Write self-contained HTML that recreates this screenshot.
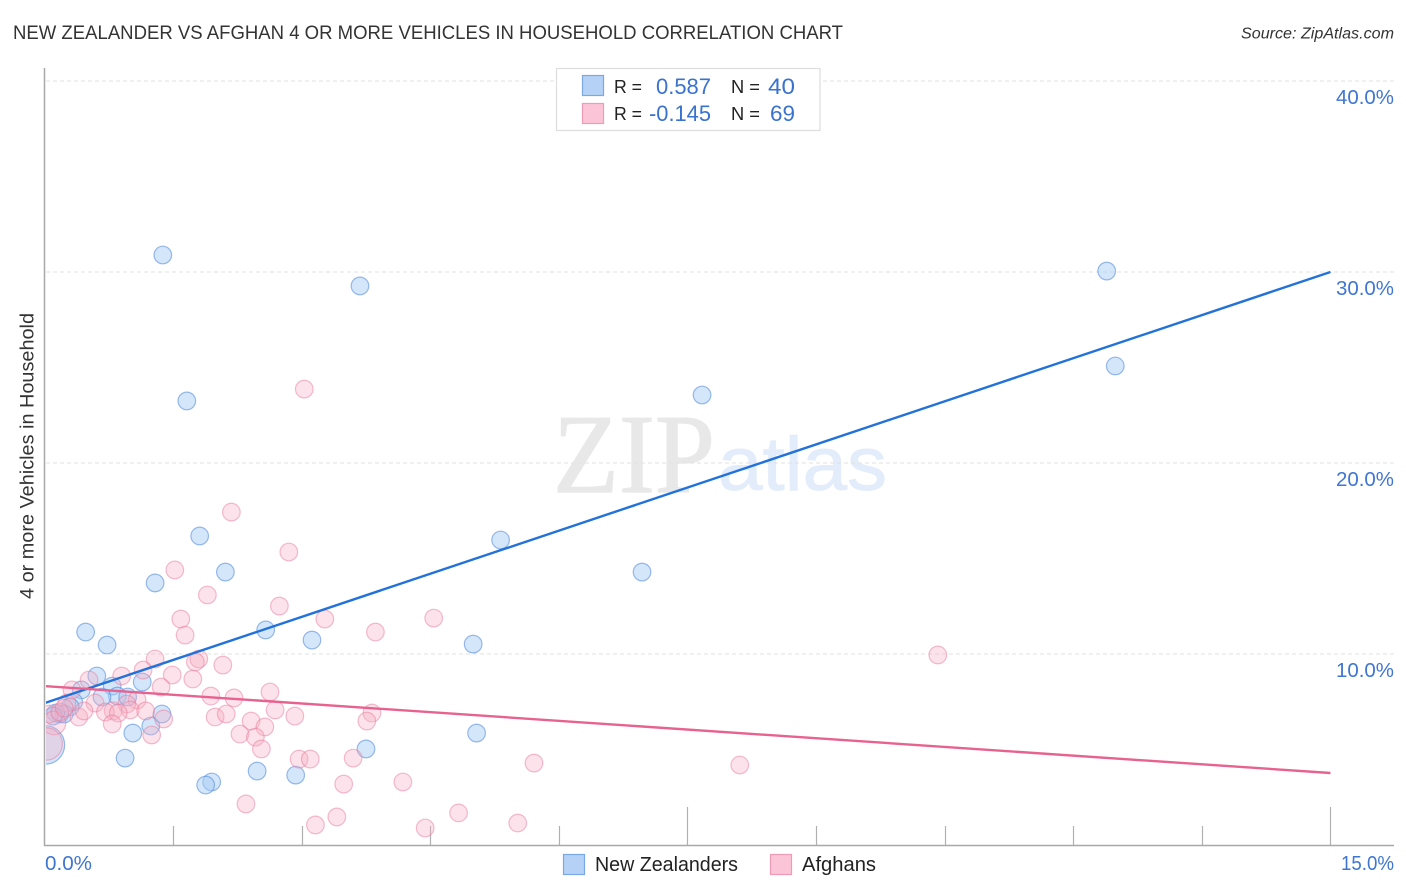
<!DOCTYPE html>
<html lang="en">
<head>
<meta charset="utf-8">
<title>New Zealander vs Afghan 4 or More Vehicles in Household Correlation Chart</title>
<style>
html,body{margin:0;padding:0;background:#fff;width:1406px;height:892px;overflow:hidden}
svg{display:block}
text{font-family:"Liberation Sans",sans-serif}
</style>
</head>
<body>
<svg id="chart" xmlns="http://www.w3.org/2000/svg" width="1406" height="892" viewBox="0 0 1406 892">
  <defs>
    <clipPath id="plot-clip"><rect x="46" y="60" width="1348" height="785"/></clipPath>
  </defs>
  <rect x="0" y="0" width="1406" height="892" fill="#ffffff"/>
  <text x="13" y="39" font-size="19" fill="#333333" textLength="830" lengthAdjust="spacingAndGlyphs">NEW ZEALANDER VS AFGHAN 4 OR MORE VEHICLES IN HOUSEHOLD CORRELATION CHART</text>
  <text x="1241" y="38.500" font-size="15.500" font-style="italic" fill="#333333" textLength="153" lengthAdjust="spacingAndGlyphs">Source: ZipAtlas.com</text>

  <g>
    <text x="553" y="492" style="font-family:'Liberation Serif',serif" font-size="112" fill="#e8e8e8" stroke="#e8e8e8" stroke-width="1.2" textLength="162" lengthAdjust="spacingAndGlyphs">ZIP</text>
    <text x="718" y="490" style="font-family:'Liberation Sans',sans-serif" font-size="76" fill="#e2ecfa" stroke="#e2ecfa" stroke-width="0.8" textLength="169" lengthAdjust="spacingAndGlyphs">atlas</text>
  </g>

  <g id="grid"></g>
  <g id="axes"></g>
  <g id="marks" clip-path="url(#plot-clip)"></g>
  <g id="trends" clip-path="url(#plot-clip)"></g>
  <g id="labels"></g>

  <text transform="translate(33.500,599) rotate(-90)" font-size="19" fill="#333333" textLength="286" lengthAdjust="spacingAndGlyphs">4 or more Vehicles in Household</text>

  <g>
    <rect x="556.500" y="68.500" width="263.500" height="62" fill="#ffffff" stroke="#dddddd" stroke-width="1.200"/>
    <rect x="582.500" y="75.500" width="21" height="20" fill="#b5d2f6" stroke="#7aa8e4" stroke-width="1.200"/>
    <rect x="582.500" y="103.500" width="21" height="20" fill="#fcc5d7" stroke="#f19ab8" stroke-width="1.200"/>
    <text x="614" y="93" font-size="18" fill="#222222" textLength="28" lengthAdjust="spacingAndGlyphs">R =</text>
    <text x="656" y="94" font-size="22" fill="#3a72cf" textLength="55" lengthAdjust="spacingAndGlyphs">0.587</text>
    <text x="731" y="93" font-size="18" fill="#222222" textLength="29" lengthAdjust="spacingAndGlyphs">N =</text>
    <text x="768" y="94" font-size="22" fill="#3a72cf" textLength="27" lengthAdjust="spacingAndGlyphs">40</text>
    <text x="614" y="120" font-size="18" fill="#222222" textLength="28" lengthAdjust="spacingAndGlyphs">R =</text>
    <text x="649" y="121" font-size="22" fill="#3a72cf" textLength="62" lengthAdjust="spacingAndGlyphs">-0.145</text>
    <text x="731" y="120" font-size="18" fill="#222222" textLength="29" lengthAdjust="spacingAndGlyphs">N =</text>
    <text x="770" y="121" font-size="22" fill="#3a72cf" textLength="25" lengthAdjust="spacingAndGlyphs">69</text>
  </g>

  <g>
    <rect x="563.500" y="854.500" width="21" height="20" fill="#b5d2f6" stroke="#7aa8e4" stroke-width="1.200"/>
    <text x="595" y="871" font-size="20" fill="#222222" textLength="143" lengthAdjust="spacingAndGlyphs">New Zealanders</text>
    <rect x="770.500" y="854.500" width="21" height="20" fill="#fcc5d7" stroke="#f19ab8" stroke-width="1.200"/>
    <text x="802" y="871" font-size="20" fill="#222222" textLength="74" lengthAdjust="spacingAndGlyphs">Afghans</text>
  </g>
</svg>

<script>
const blueX = [1.38,3.68,12.39,12.49,7.67,1.66,1.81,5.32,6.97,2.11,1.29,0.48,2.58,0.73,3.12,5.00,0.61,1.14,0.79,0.43,0.85,0.67,0.97,0.34,0.30,0.18,0.23,0.13,1.24,1.37,1.03,5.04,3.75,0.94,2.48,2.93,1.95,1.88,0.10,0.01];
const blueY = [30.89,29.27,30.05,25.08,23.56,23.25,16.18,15.97,14.29,14.29,13.72,11.15,11.26,10.47,10.73,10.52,8.85,8.53,8.32,8.12,7.80,7.75,7.75,7.49,7.23,6.86,6.86,6.91,6.23,6.86,5.86,5.86,5.03,4.55,3.87,3.66,3.30,3.14,6.75,5.24];
const bluePopulation = [1,1,1,1,1,1,1,1,1,1,1,1,1,1,1,1,1,1,1,1,1,1,1,1,1,1,1,1,1,1,1,1,1,1,1,1,1,1,1,4.8];

const pinkX = [3.03,2.18,2.85,1.52,1.90,2.74,1.59,3.27,4.54,3.86,1.64,10.42,1.80,1.76,1.29,2.08,1.15,1.49,0.90,1.73,0.52,1.36,2.63,1.94,2.21,0.32,1.08,0.59,0.96,0.80,1.00,2.69,2.92,3.82,1.99,2.12,1.39,1.18,0.71,0.86,0.40,0.46,0.26,0.06,0.11,0.79,3.76,2.41,2.57,2.28,2.46,1.25,2.53,2.97,3.10,3.60,5.71,8.11,3.49,4.18,2.35,4.83,3.41,5.52,3.16,4.44,0.02,0.18,0.23];
const pinkY = [23.87,17.43,15.34,14.40,13.09,12.51,11.83,11.83,11.88,11.15,10.99,9.95,9.74,9.58,9.74,9.42,9.16,8.90,8.85,8.69,8.64,8.27,8.01,7.80,7.70,8.12,7.59,7.43,7.38,7.02,7.07,7.07,6.75,6.91,6.70,6.86,6.60,7.02,6.96,6.91,6.70,7.02,7.43,6.86,6.39,6.34,6.49,6.49,6.18,5.81,5.65,5.76,5.03,4.50,4.50,4.55,4.29,4.19,3.19,3.30,2.15,1.68,1.47,1.15,1.05,0.89,5.29,6.96,7.17];
const pinkPopulation = [1,1,1,1,1,1,1,1,1,1,1,1,1,1,1,1,1,1,1,1,1,1,1,1,1,1,1,1,1,1,1,1,1,1,1,1,1,1,1,1,1,1,1,1,1.8,1,1,1,1,1,1,1,1,1,1,1,1,1,1,1,1,1,1,1,1,1,3.4,1,1];

const blueTrendX = [0, 15];
const blueTrendY = [7.43, 30.0];
const pinkTrendX = [0, 15];
const pinkTrendY = [8.32, 3.77];

const yTicks = [10, 20, 30, 40];
const yTickLabels = ["10.0%", "20.0%", "30.0%", "40.0%"];
const xTicks = [1.5, 3, 4.5, 6, 7.5, 9, 10.5, 12, 13.5, 15];
const xMajorTicks = [7.5, 15];
const xEndLabels = ["0.0%", "15.0%"];

const SVG_NS = "http://www.w3.org/2000/svg";
function xScale(v) { return 44.5 + v * 85.73; }
function yScale(v) { return 845 - v * 19.1; }
function make(tag, attrs, parent) {
  const el = document.createElementNS(SVG_NS, tag);
  for (const k in attrs) el.setAttribute(k, attrs[k]);
  parent.appendChild(el);
  return el;
}

const gridG = document.getElementById("grid");
const axesG = document.getElementById("axes");
const marksG = document.getElementById("marks");
const trendsG = document.getElementById("trends");
const labelsG = document.getElementById("labels");

yTicks.forEach(function (t) {
  const line = make("line", { x1: 46, x2: 1394, y1: yScale(t), y2: yScale(t), stroke: "#e2e2e2", "stroke-width": 1, "stroke-dasharray": "4 3" }, gridG);
  
  
});

const yAxisLine = make("line", { x1: 44.5, x2: 44.5, y1: 68, y2: 846, stroke: "#a8a8a8", "stroke-width": 1.5 }, axesG);


const xAxisLine = make("line", { x1: 44, x2: 1394, y1: 845.5, y2: 845.5, stroke: "#a8a8a8", "stroke-width": 1.5 }, axesG);



xTicks.forEach(function (t) {
  const top = xMajorTicks.includes(t) ? 807 : 826;
  const px = Math.round(xScale(t)) + 0.5;
  const tick = make("line", { x1: px, x2: px, y1: top, y2: 845, stroke: "#b0b0b0", "stroke-width": 1.2 }, axesG);
  
  
});

function drawSeries(xs, ys, pops, fill, stroke, name) {
  xs.forEach(function (x, i) {
    const c = make("circle", {
      cx: xScale(x), cy: yScale(ys[i]), r: 8.8 * Math.sqrt(pops[i]),
      fill: fill, stroke: stroke, "stroke-width": 1.2
    }, marksG);
    
    
  });
}
drawSeries(blueX, blueY, bluePopulation, "rgba(165,203,245,0.48)", "rgba(85,140,220,0.58)", "new-zealander-point");
drawSeries(pinkX, pinkY, pinkPopulation, "rgba(248,175,198,0.36)", "rgba(232,120,155,0.48)", "afghan-point");

const blueTrend = make("line", { x1: xScale(blueTrendX[0]), y1: yScale(blueTrendY[0]), x2: xScale(blueTrendX[1]), y2: yScale(blueTrendY[1]), stroke: "#2272d9", "stroke-width": 2.4 }, trendsG);


const pinkTrend = make("line", { x1: xScale(pinkTrendX[0]), y1: yScale(pinkTrendY[0]), x2: xScale(pinkTrendX[1]), y2: yScale(pinkTrendY[1]), stroke: "#e8628f", "stroke-width": 2.4 }, trendsG);



yTickLabels.forEach(function (label, i) {
  const t = make("text", { x: 1394, y: yScale(yTicks[i]) + 23, "font-size": 20, fill: "#3f76d1", "text-anchor": "end", textLength: 58, lengthAdjust: "spacingAndGlyphs" }, labelsG);
  t.textContent = label;
  
  
});

const xLabelStart = make("text", { x: 45, y: 870, "font-size": 20, fill: "#3f76d1", textLength: 47, lengthAdjust: "spacingAndGlyphs" }, labelsG);
xLabelStart.textContent = xEndLabels[0];


const xLabelEnd = make("text", { x: 1341, y: 870, "font-size": 20, fill: "#3f76d1", textLength: 53, lengthAdjust: "spacingAndGlyphs" }, labelsG);
xLabelEnd.textContent = xEndLabels[1];


</script>
</body>
</html>
